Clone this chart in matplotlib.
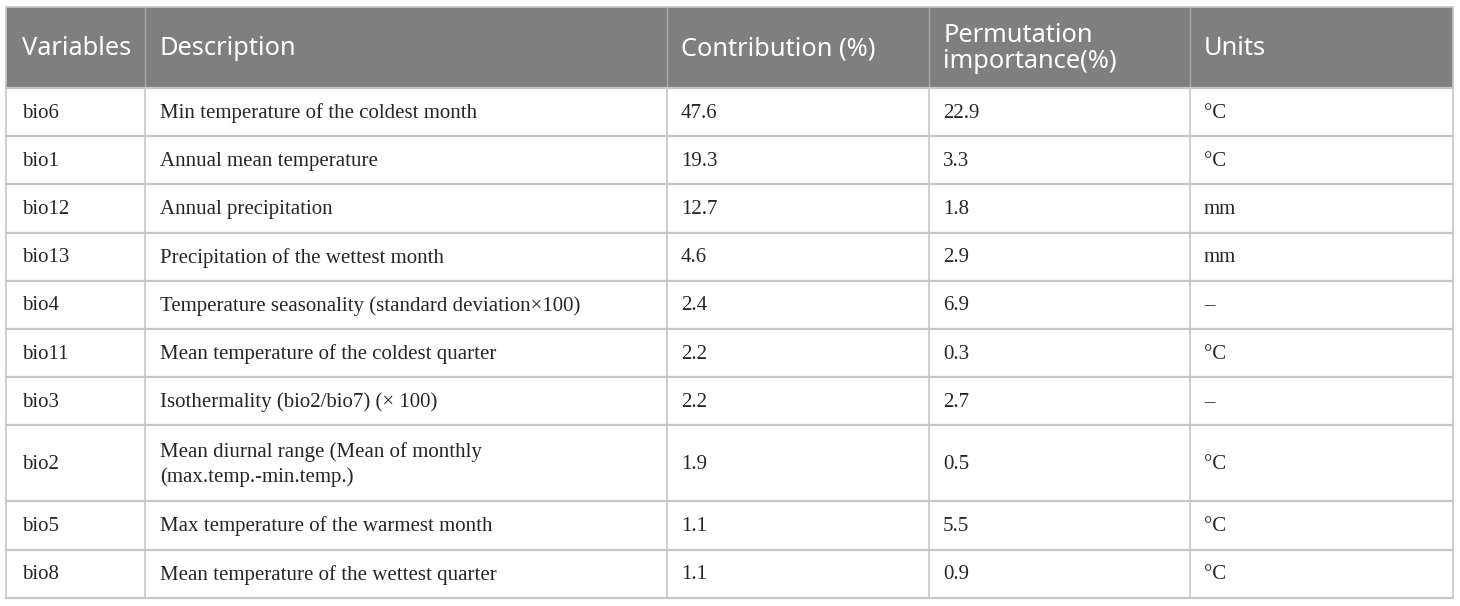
import matplotlib.pyplot as plt
from matplotlib.patches import Rectangle

# table content
headers = ["Variables", "Description", "Contribution (%)",
           "Permutation\nimportance(%)", "Units"]
variables = ["bio6", "bio1", "bio12", "bio13", "bio4", "bio11", "bio3",
             "bio2", "bio5", "bio8"]
descriptions = [
    "Min temperature of the coldest month",
    "Annual mean temperature",
    "Annual precipitation",
    "Precipitation of the wettest month",
    "Temperature seasonality (standard deviation×100)",
    "Mean temperature of the coldest quarter",
    "Isothermality (bio2/bio7) (× 100)",
    "Mean diurnal range (Mean of monthly\n(max.temp.-min.temp.)",
    "Max temperature of the warmest month",
    "Mean temperature of the wettest quarter",
]
contribution = [47.6, 19.3, 12.7, 4.6, 2.4, 2.2, 2.2, 1.9, 1.1, 1.1]
permutation = [22.9, 3.3, 1.8, 2.9, 6.9, 0.3, 2.7, 0.5, 5.5, 0.9]
units = ["°C", "°C", "mm", "mm", "–", "°C", "–", "°C", "°C", "°C"]

# layout (pixels)
col_edges = [6, 145, 667, 929, 1190, 1453]
top, header_h, row_h, tall_h = 7, 81, 48.2, 76
pad = [16, 15, 14, 14, 14]

fig = plt.figure(figsize=(14.6, 6.06), dpi=100)
ax = fig.add_axes([0, 0, 1, 1])
ax.set_xlim(0, 1460)
ax.set_ylim(606, 0)
ax.axis("off")

line_col = "#c6c6c6"
head_col = "#7f7f7f"

# header
ax.add_patch(Rectangle((col_edges[0], top), col_edges[-1] - col_edges[0], header_h,
                       facecolor=head_col, edgecolor="none"))
for j, h in enumerate(headers):
    ax.text(col_edges[j] + pad[j], top + header_h / 2 + 1, h, color="white",
            fontsize=18.3, family="Noto Sans", va="center", ha="left",
            linespacing=1.05)
for x in col_edges[1:-1]:
    ax.plot([x, x], [top, top + header_h], color="#a8a8a8", lw=1)

# body rows
y = top + header_h
rows = list(zip(variables, descriptions, contribution, permutation, units))
for i, (v, d, c, p, u) in enumerate(rows):
    h = tall_h if "\n" in d else row_h
    yc = y + h / 2 + 1
    cells = [v, d, f"{c:.1f}", f"{p:.1f}", u]
    for j, t in enumerate(cells):
        ax.text(col_edges[j] + pad[j], yc, t, color="#262626", fontsize=15,
                family="Liberation Serif", va="center", ha="left",
                linespacing=1.4)
    ax.plot([col_edges[0], col_edges[-1]], [y, y], color=line_col, lw=1.6)
    y += h
ax.plot([col_edges[0], col_edges[-1]], [y, y], color=line_col, lw=1.6)
bottom = y

# vertical lines in body
for x in col_edges:
    y0 = top if x in (col_edges[0], col_edges[-1]) else top + header_h
    ax.plot([x, x], [y0, bottom], color=line_col, lw=1.2)
ax.plot([col_edges[0], col_edges[-1]], [top, top], color=line_col, lw=1.2)

fig.savefig("out.png", dpi=100, facecolor="white")
